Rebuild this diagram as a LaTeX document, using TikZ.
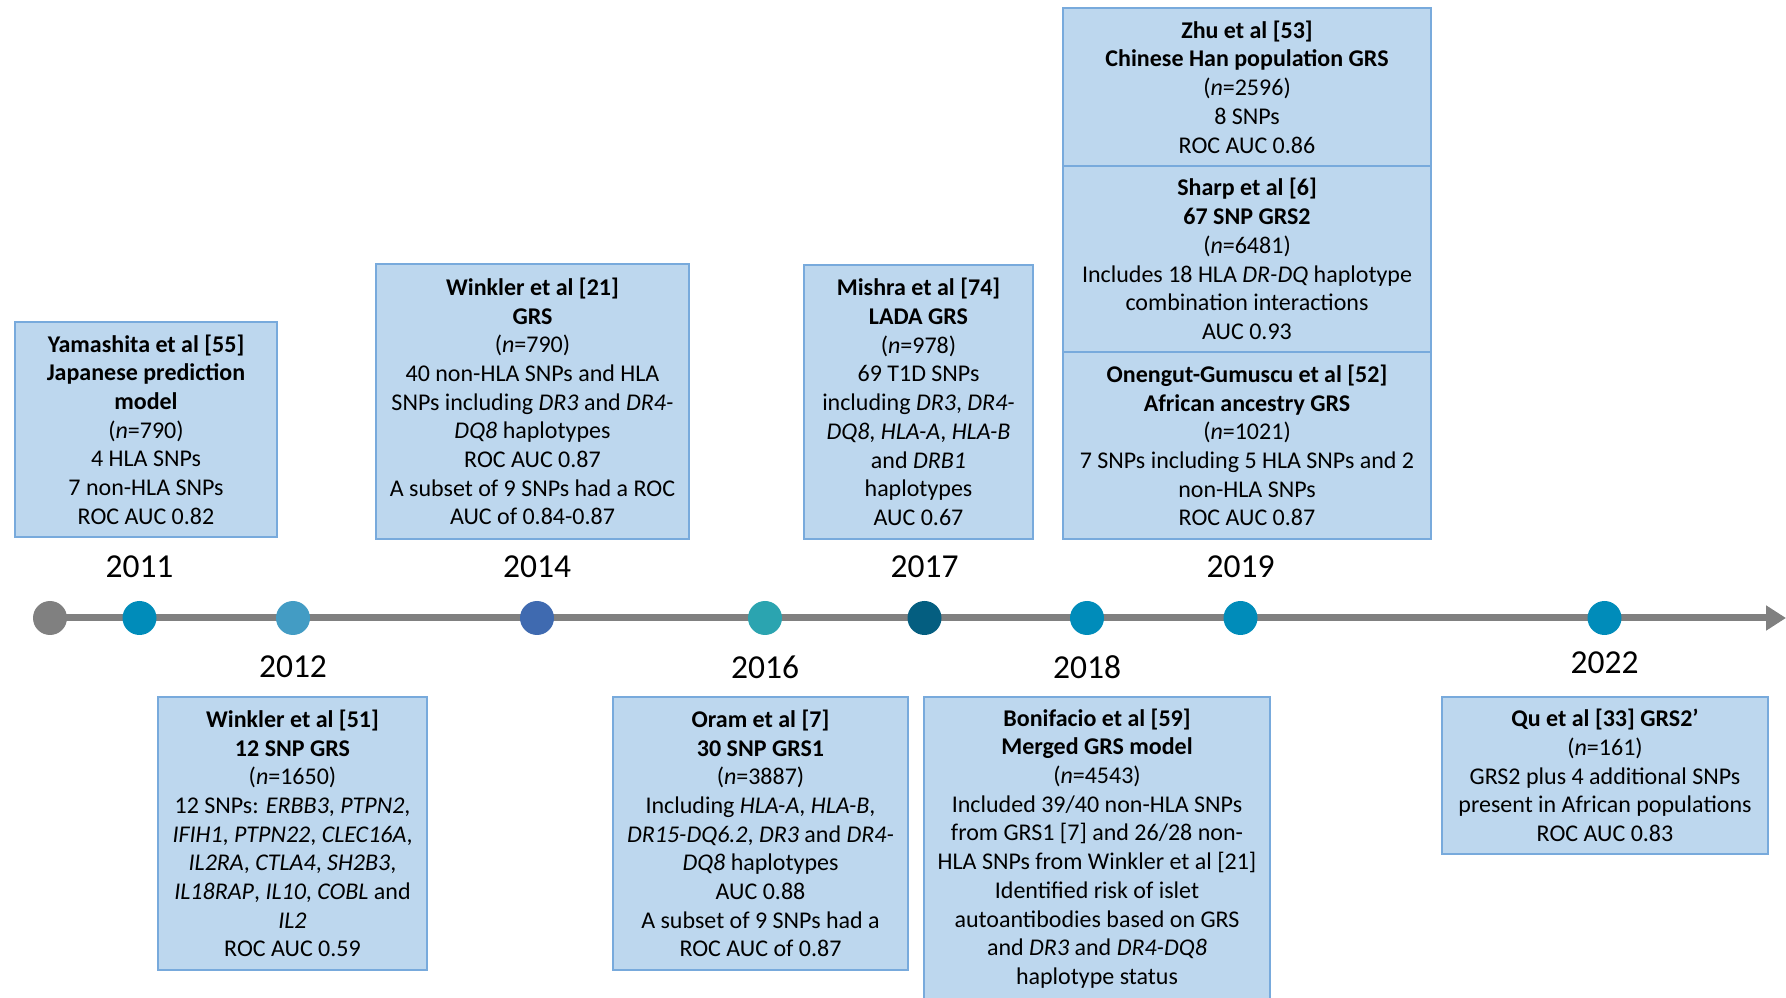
\documentclass[tikz,border=0pt]{standalone}
\usepackage{fontspec}
\setmainfont{Carlito}
\usetikzlibrary{positioning,arrows.meta,calc}
\definecolor{boxFill}{RGB}{189,215,238}
\definecolor{boxLine}{RGB}{120,170,220}
\definecolor{lineGrey}{RGB}{128,128,128}
\definecolor{dotBlue}{RGB}{0,140,186}
\definecolor{dotLight}{RGB}{67,156,196}
\definecolor{dotRoyal}{RGB}{63,106,176}
\definecolor{dotTeal}{RGB}{43,164,176}
\definecolor{dotDark}{RGB}{4,94,128}
\tikzset{
  grsBox/.style={draw=boxLine,fill=boxFill,line width=1.6pt,align=center,
    inner sep=0pt,outer sep=0pt,font=\fontsize{24}{28.7}\selectfont},
  tDot/.style={circle,minimum size=34pt,inner sep=0pt},
  yearLabel/.style={font=\fontsize{33.5}{40}\selectfont},
  timeline/.style={draw=lineGrey,line width=7pt,-{Triangle[length=20pt,width=24pt]}},
}

\begin{document}
\begin{tikzpicture}[x=1pt,y=1pt]
\useasboundingbox (0,0) rectangle (1786,997);
\clip (0,0) rectangle (1786,997);

% ===== Timeline =====
\coordinate (tlStart) at (50,379);
\coordinate (tlEnd) at (1786,379);
\draw[timeline] (tlStart) -- (tlEnd);
\foreach \name/\x/\col in {dStart/50/lineGrey, d2011/139.5/dotBlue, d2012/293/dotLight,
  d2014/537/dotRoyal, d2016/765/dotTeal, d2017/924.5/dotDark, d2018/1087/dotBlue,
  d2019/1240.5/dotBlue, d2022/1604.5/dotBlue} {
  \node[tDot, fill=\col] (\name) at (\x,379) {};
}

% ===== Year labels =====
\foreach \yr in {2011,2014,2017,2019} {
  \node[yearLabel] (y\yr) at ($(d\yr)+(0,51)$) {\yr};
}
\foreach \yr in {2012,2016,2018} {
  \node[yearLabel] (y\yr) at ($(d\yr)+(0,-49)$) {\yr};
}
\node[yearLabel] (y2022) at ($(d2022)+(0,-45)$) {2022};

% ===== Studies above the line =====
\node[grsBox, minimum width=262pt, minimum height=215pt] (yamashitaBox) at (146,567.5)
  {\textbf{Yamashita et al [55]}\\\textbf{Japanese prediction}\\\textbf{model}\\
   (\textit{n}=790)\\4 HLA SNPs\\7 non-HLA SNPs\\ROC AUC 0.82};
\node[grsBox, minimum width=313pt, minimum height=275pt] (winklerGrsBox) at (532.5,595.5)
  {\textbf{Winkler et al [21]}\\\textbf{GRS}\\(\textit{n}=790)\\40 non-HLA SNPs and HLA\\
   SNPs including \textit{DR3} and \textit{DR4-}\\\textit{DQ8} haplotypes\\ROC AUC 0.87\\
   A subset of 9 SNPs had a ROC\\AUC of 0.84-0.87};
\node[grsBox, minimum width=229pt, minimum height=274pt] (mishraBox) at (918.5,595)
  {\textbf{Mishra et al [74]}\\\textbf{LADA GRS}\\(\textit{n}=978)\\69 T1D SNPs\\
   including \textit{DR3}, \textit{DR4-}\\\textit{DQ8}, \textit{HLA-A}, \textit{HLA-B}\\
   and \textit{DRB1}\\haplotypes\\AUC 0.67};
\node[grsBox, minimum width=368pt, minimum height=158pt] (zhuBox) at (1247,910)
  {\textbf{Zhu et al [53]}\\\textbf{Chinese Han population GRS}\\(\textit{n}=2596)\\8 SNPs\\ROC AUC 0.86};
\node[grsBox, minimum width=368pt, minimum height=186pt, below=0pt of zhuBox] (sharpBox)
  {\textbf{Sharp et al [6]}\\\textbf{67 SNP GRS2}\\(\textit{n}=6481)\\
   Includes 18 HLA \textit{DR-DQ} haplotype\\combination interactions\\AUC 0.93};
\node[grsBox, minimum width=368pt, minimum height=187pt, below=0pt of sharpBox] (onengutBox)
  {\textbf{Onengut-Gumuscu et al [52]}\\\textbf{African ancestry GRS}\\(\textit{n}=1021)\\
   7 SNPs including 5 HLA SNPs and 2\\non-HLA SNPs\\ROC AUC 0.87};

% ===== Studies below the line =====
\node[grsBox, minimum width=269pt, minimum height=273pt] (winklerSnpBox) at (292.5,163.5)
  {\textbf{Winkler et al [51]}\\\textbf{12 SNP GRS}\\(\textit{n}=1650)\\
   12 SNPs: \textit{ERBB3}, \textit{PTPN2},\\\textit{IFIH1}, \textit{PTPN22}, \textit{CLEC16A},\\
   \textit{IL2RA}, \textit{CTLA4}, \textit{SH2B3},\\\textit{IL18RAP}, \textit{IL10}, \textit{COBL} and\\
   \textit{IL2}\\ROC AUC 0.59};
\node[grsBox, minimum width=295pt, minimum height=273pt] (oramBox) at (760.5,163.5)
  {\textbf{Oram et al [7]}\\\textbf{30 SNP GRS1}\\(\textit{n}=3887)\\
   Including \textit{HLA-A}, \textit{HLA-B},\\\textit{DR15-DQ6.2}, \textit{DR3} and \textit{DR4-}\\
   \textit{DQ8} haplotypes\\AUC 0.88\\A subset of 9 SNPs had a\\ROC AUC of 0.87};
\node[grsBox, minimum width=346pt, minimum height=303pt] (bonifacioBox) at (1097,148.5)
  {\textbf{Bonifacio et al [59]}\\\textbf{Merged GRS model}\\(\textit{n}=4543)\\
   Included 39/40 non-HLA SNPs\\from GRS1 [7] and 26/28 non-\\HLA SNPs from Winkler et al [21]\\
   Identified risk of islet\\autoantibodies based on GRS\\and \textit{DR3} and \textit{DR4-DQ8}\\
   haplotype status};
\node[grsBox, minimum width=326pt, minimum height=157pt] (quBox) at (1605,221.5)
  {\textbf{Qu et al [33] GRS2’}\\(\textit{n}=161)\\GRS2 plus 4 additional SNPs\\
   present in African populations\\ROC AUC 0.83};

\end{tikzpicture}
\end{document}
